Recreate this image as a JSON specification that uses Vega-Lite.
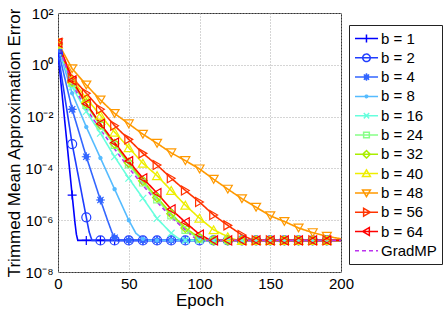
{
"$schema": "https://vega.github.io/schema/vega-lite/v6.json",
"width": 283, "height": 259,
"autosize": "none",
"padding": {"left": 58, "top": 13, "right": 105, "bottom": 40},
"background": "white",
"config": {
  "view": {"stroke": "#333", "strokeWidth": 1},
  "font": "Liberation Sans",
  "axis": {"labelFont": "Liberation Sans", "titleFont": "Liberation Sans", "labelColor": "black", "titleColor": "black", "titleFontWeight": "normal", "domain": false, "ticks": false, "gridColor": "#aaaaaa", "gridDash": [1, 2], "labelFontSize": 15, "titleFontSize": 17}
},
"datasets": {"d": [
{"s":"b = 1","e":0,"v":2.82},{"s":"b = 1","e":5,"v":5.01e-3},{"s":"b = 1","e":10,"v":9.33e-6},{"s":"b = 1","e":12,"v":7.94e-7},{"s":"b = 1","e":13,"v":2.82e-7},{"s":"b = 1","e":14,"v":1.66e-7},
{"s":"b = 1","e":20,"v":1.66e-7},{"s":"b = 1","e":30,"v":1.66e-7},{"s":"b = 1","e":40,"v":1.66e-7},{"s":"b = 1","e":50,"v":1.66e-7},{"s":"b = 1","e":60,"v":1.66e-7},{"s":"b = 1","e":70,"v":1.66e-7},{"s":"b = 1","e":80,"v":1.66e-7},{"s":"b = 1","e":90,"v":1.66e-7},{"s":"b = 1","e":100,"v":1.66e-7},{"s":"b = 1","e":110,"v":1.66e-7},{"s":"b = 1","e":120,"v":1.66e-7},{"s":"b = 1","e":130,"v":1.66e-7},{"s":"b = 1","e":140,"v":1.66e-7},{"s":"b = 1","e":150,"v":1.66e-7},{"s":"b = 1","e":160,"v":1.66e-7},{"s":"b = 1","e":170,"v":1.66e-7},{"s":"b = 1","e":180,"v":1.66e-7},{"s":"b = 1","e":190,"v":1.66e-7},{"s":"b = 1","e":200,"v":1.66e-7},
{"s":"b = 2","e":0,"v":2.82},{"s":"b = 2","e":10,"v":8.71e-4},{"s":"b = 2","e":20,"v":1.29e-6},{"s":"b = 2","e":22,"v":3.55e-7},{"s":"b = 2","e":24,"v":1.66e-7},
{"s":"b = 2","e":30,"v":1.66e-7},{"s":"b = 2","e":40,"v":1.66e-7},{"s":"b = 2","e":50,"v":1.66e-7},{"s":"b = 2","e":60,"v":1.66e-7},{"s":"b = 2","e":70,"v":1.66e-7},{"s":"b = 2","e":80,"v":1.66e-7},{"s":"b = 2","e":90,"v":1.66e-7},{"s":"b = 2","e":100,"v":1.66e-7},{"s":"b = 2","e":110,"v":1.66e-7},{"s":"b = 2","e":120,"v":1.66e-7},{"s":"b = 2","e":130,"v":1.66e-7},{"s":"b = 2","e":140,"v":1.66e-7},{"s":"b = 2","e":150,"v":1.66e-7},{"s":"b = 2","e":160,"v":1.66e-7},{"s":"b = 2","e":170,"v":1.66e-7},{"s":"b = 2","e":180,"v":1.66e-7},{"s":"b = 2","e":190,"v":1.66e-7},{"s":"b = 2","e":200,"v":1.66e-7},
{"s":"b = 4","e":0,"v":3.98},{"s":"b = 4","e":10,"v":1.91e-2},{"s":"b = 4","e":20,"v":2.82e-4},{"s":"b = 4","e":30,"v":6.03e-6},{"s":"b = 4","e":35,"v":1.0e-6},{"s":"b = 4","e":38,"v":3.55e-7},{"s":"b = 4","e":40,"v":2.09e-7},{"s":"b = 4","e":42,"v":1.66e-7},
{"s":"b = 4","e":50,"v":1.66e-7},{"s":"b = 4","e":60,"v":1.66e-7},{"s":"b = 4","e":70,"v":1.66e-7},{"s":"b = 4","e":80,"v":1.66e-7},{"s":"b = 4","e":90,"v":1.66e-7},{"s":"b = 4","e":100,"v":1.66e-7},{"s":"b = 4","e":110,"v":1.66e-7},{"s":"b = 4","e":120,"v":1.66e-7},{"s":"b = 4","e":130,"v":1.66e-7},{"s":"b = 4","e":140,"v":1.66e-7},{"s":"b = 4","e":150,"v":1.66e-7},{"s":"b = 4","e":160,"v":1.66e-7},{"s":"b = 4","e":170,"v":1.66e-7},{"s":"b = 4","e":180,"v":1.66e-7},{"s":"b = 4","e":190,"v":1.66e-7},{"s":"b = 4","e":200,"v":1.66e-7},
{"s":"b = 8","e":0,"v":5.01},{"s":"b = 8","e":10,"v":7.94e-2},{"s":"b = 8","e":20,"v":3.98e-3},{"s":"b = 8","e":30,"v":2.51e-4},{"s":"b = 8","e":40,"v":1.58e-5},{"s":"b = 8","e":50,"v":1.0e-6},{"s":"b = 8","e":55,"v":3.16e-7},{"s":"b = 8","e":60,"v":1.91e-7},{"s":"b = 8","e":63,"v":1.66e-7},
{"s":"b = 8","e":70,"v":1.66e-7},{"s":"b = 8","e":80,"v":1.66e-7},{"s":"b = 8","e":90,"v":1.66e-7},{"s":"b = 8","e":100,"v":1.66e-7},{"s":"b = 8","e":110,"v":1.66e-7},{"s":"b = 8","e":120,"v":1.66e-7},{"s":"b = 8","e":130,"v":1.66e-7},{"s":"b = 8","e":140,"v":1.66e-7},{"s":"b = 8","e":150,"v":1.66e-7},{"s":"b = 8","e":160,"v":1.66e-7},{"s":"b = 8","e":170,"v":1.66e-7},{"s":"b = 8","e":180,"v":1.66e-7},{"s":"b = 8","e":190,"v":1.66e-7},{"s":"b = 8","e":200,"v":1.66e-7},
{"s":"b = 16","e":0,"v":5.62},{"s":"b = 16","e":10,"v":0.141},{"s":"b = 16","e":20,"v":1.58e-2},{"s":"b = 16","e":30,"v":2.29e-3},{"s":"b = 16","e":40,"v":2.82e-4},{"s":"b = 16","e":50,"v":4.17e-5},{"s":"b = 16","e":60,"v":7.08e-6},{"s":"b = 16","e":70,"v":1.17e-6},{"s":"b = 16","e":80,"v":3.16e-7},{"s":"b = 16","e":85,"v":2.0e-7},
{"s":"b = 16","e":90,"v":1.66e-7},{"s":"b = 16","e":100,"v":1.66e-7},{"s":"b = 16","e":110,"v":1.66e-7},{"s":"b = 16","e":120,"v":1.66e-7},{"s":"b = 16","e":130,"v":1.66e-7},{"s":"b = 16","e":140,"v":1.66e-7},{"s":"b = 16","e":150,"v":1.66e-7},{"s":"b = 16","e":160,"v":1.66e-7},{"s":"b = 16","e":170,"v":1.66e-7},{"s":"b = 16","e":180,"v":1.66e-7},{"s":"b = 16","e":190,"v":1.66e-7},{"s":"b = 16","e":200,"v":1.66e-7},
{"s":"b = 24","e":0,"v":6.31},{"s":"b = 24","e":10,"v":0.2},{"s":"b = 24","e":20,"v":2.82e-2},{"s":"b = 24","e":30,"v":4.47e-3},{"s":"b = 24","e":40,"v":7.94e-4},{"s":"b = 24","e":50,"v":1.41e-4},{"s":"b = 24","e":60,"v":2.82e-5},{"s":"b = 24","e":70,"v":6.31e-6},{"s":"b = 24","e":80,"v":1.51e-6},{"s":"b = 24","e":90,"v":4.17e-7},{"s":"b = 24","e":100,"v":1.91e-7},{"s":"b = 24","e":104,"v":1.66e-7},
{"s":"b = 24","e":110,"v":1.66e-7},{"s":"b = 24","e":120,"v":1.66e-7},{"s":"b = 24","e":130,"v":1.66e-7},{"s":"b = 24","e":140,"v":1.66e-7},{"s":"b = 24","e":150,"v":1.66e-7},{"s":"b = 24","e":160,"v":1.66e-7},{"s":"b = 24","e":170,"v":1.66e-7},{"s":"b = 24","e":180,"v":1.66e-7},{"s":"b = 24","e":190,"v":1.66e-7},{"s":"b = 24","e":200,"v":1.66e-7},
{"s":"b = 32","e":0,"v":6.31},{"s":"b = 32","e":10,"v":0.224},{"s":"b = 32","e":20,"v":3.16e-2},{"s":"b = 32","e":30,"v":5.01e-3},{"s":"b = 32","e":40,"v":8.91e-4},{"s":"b = 32","e":50,"v":1.66e-4},{"s":"b = 32","e":60,"v":3.31e-5},{"s":"b = 32","e":70,"v":7.59e-6},{"s":"b = 32","e":80,"v":1.78e-6},{"s":"b = 32","e":90,"v":5.01e-7},{"s":"b = 32","e":100,"v":2.09e-7},{"s":"b = 32","e":106,"v":1.66e-7},
{"s":"b = 32","e":110,"v":1.66e-7},{"s":"b = 32","e":120,"v":1.66e-7},{"s":"b = 32","e":130,"v":1.66e-7},{"s":"b = 32","e":140,"v":1.66e-7},{"s":"b = 32","e":150,"v":1.66e-7},{"s":"b = 32","e":160,"v":1.66e-7},{"s":"b = 32","e":170,"v":1.66e-7},{"s":"b = 32","e":180,"v":1.66e-7},{"s":"b = 32","e":190,"v":1.66e-7},{"s":"b = 32","e":200,"v":1.66e-7},
{"s":"b = 40","e":0,"v":6.31},{"s":"b = 40","e":10,"v":0.282},{"s":"b = 40","e":20,"v":5.01e-2},{"s":"b = 40","e":30,"v":1.12e-2},{"s":"b = 40","e":40,"v":2.51e-3},{"s":"b = 40","e":50,"v":6.31e-4},{"s":"b = 40","e":60,"v":1.58e-4},{"s":"b = 40","e":70,"v":5.25e-5},{"s":"b = 40","e":80,"v":1.41e-5},{"s":"b = 40","e":90,"v":3.8e-6},{"s":"b = 40","e":100,"v":1.2e-6},{"s":"b = 40","e":110,"v":4.27e-7},{"s":"b = 40","e":120,"v":2.29e-7},{"s":"b = 40","e":127,"v":1.66e-7},
{"s":"b = 40","e":130,"v":1.66e-7},{"s":"b = 40","e":140,"v":1.66e-7},{"s":"b = 40","e":150,"v":1.66e-7},{"s":"b = 40","e":160,"v":1.66e-7},{"s":"b = 40","e":170,"v":1.66e-7},{"s":"b = 40","e":180,"v":1.66e-7},{"s":"b = 40","e":190,"v":1.66e-7},{"s":"b = 40","e":200,"v":1.66e-7},
{"s":"b = 48","e":0,"v":7.08},{"s":"b = 48","e":10,"v":0.708},{"s":"b = 48","e":20,"v":0.166},{"s":"b = 48","e":30,"v":4.37e-2},{"s":"b = 48","e":40,"v":1.32e-2},{"s":"b = 48","e":50,"v":5.25e-3},{"s":"b = 48","e":60,"v":2.09e-3},{"s":"b = 48","e":70,"v":9.33e-4},{"s":"b = 48","e":80,"v":3.98e-4},{"s":"b = 48","e":90,"v":2.0e-4},{"s":"b = 48","e":100,"v":9.55e-5},{"s":"b = 48","e":110,"v":3.8e-5},{"s":"b = 48","e":120,"v":1.58e-5},{"s":"b = 48","e":130,"v":6.76e-6},{"s":"b = 48","e":140,"v":3.16e-6},{"s":"b = 48","e":150,"v":1.48e-6},{"s":"b = 48","e":160,"v":8.91e-7},{"s":"b = 48","e":170,"v":5.01e-7},{"s":"b = 48","e":180,"v":3.31e-7},{"s":"b = 48","e":190,"v":2.4e-7},{"s":"b = 48","e":200,"v":1.91e-7},
{"s":"b = 56","e":0,"v":7.08},{"s":"b = 56","e":10,"v":0.316},{"s":"b = 56","e":20,"v":7.94e-2},{"s":"b = 56","e":30,"v":1.91e-2},{"s":"b = 56","e":40,"v":4.47e-3},{"s":"b = 56","e":50,"v":1.32e-3},{"s":"b = 56","e":60,"v":3.8e-4},{"s":"b = 56","e":70,"v":1.35e-4},{"s":"b = 56","e":80,"v":4.17e-5},{"s":"b = 56","e":90,"v":1.41e-5},{"s":"b = 56","e":100,"v":5.01e-6},{"s":"b = 56","e":110,"v":1.58e-6},{"s":"b = 56","e":120,"v":6.31e-7},{"s":"b = 56","e":130,"v":2.69e-7},{"s":"b = 56","e":138,"v":1.66e-7},
{"s":"b = 56","e":140,"v":1.66e-7},{"s":"b = 56","e":150,"v":1.66e-7},{"s":"b = 56","e":160,"v":1.66e-7},{"s":"b = 56","e":170,"v":1.66e-7},{"s":"b = 56","e":180,"v":1.66e-7},{"s":"b = 56","e":190,"v":1.66e-7},{"s":"b = 56","e":200,"v":1.66e-7},
{"s":"b = 64","e":0,"v":7.08},{"s":"b = 64","e":10,"v":0.251},{"s":"b = 64","e":20,"v":3.16e-2},{"s":"b = 64","e":30,"v":5.25e-3},{"s":"b = 64","e":40,"v":1.0e-3},{"s":"b = 64","e":50,"v":1.91e-4},{"s":"b = 64","e":60,"v":4.17e-5},{"s":"b = 64","e":70,"v":1.12e-5},{"s":"b = 64","e":80,"v":2.63e-6},{"s":"b = 64","e":90,"v":8.32e-7},{"s":"b = 64","e":100,"v":2.82e-7},{"s":"b = 64","e":108,"v":1.66e-7},
{"s":"b = 64","e":110,"v":1.66e-7},{"s":"b = 64","e":120,"v":1.66e-7},{"s":"b = 64","e":130,"v":1.66e-7},{"s":"b = 64","e":140,"v":1.66e-7},{"s":"b = 64","e":150,"v":1.66e-7},{"s":"b = 64","e":160,"v":1.66e-7},{"s":"b = 64","e":170,"v":1.66e-7},{"s":"b = 64","e":180,"v":1.66e-7},{"s":"b = 64","e":190,"v":1.66e-7},{"s":"b = 64","e":200,"v":1.66e-7},
{"s":"GradMP","e":0,"v":6.31},{"s":"GradMP","e":10,"v":0.178},{"s":"GradMP","e":20,"v":2.0e-2},{"s":"GradMP","e":30,"v":3.16e-3},{"s":"GradMP","e":40,"v":5.62e-4},{"s":"GradMP","e":50,"v":1.05e-4},{"s":"GradMP","e":60,"v":2.24e-5},{"s":"GradMP","e":70,"v":5.01e-6},{"s":"GradMP","e":80,"v":1.32e-6},{"s":"GradMP","e":90,"v":4.17e-7},{"s":"GradMP","e":97,"v":2.0e-7},{"s":"GradMP","e":100,"v":1.66e-7},{"s":"GradMP","e":200,"v":1.66e-7}
]},
"data": {"name": "d"},
"encoding": {
  "x": {"field": "e", "type": "quantitative", "scale": {"domain": [0, 200], "nice": false}, "axis": {"values": [0, 50, 100, 150, 200], "title": "Epoch", "labelPadding": 4, "titlePadding": 1, "labelFlush": false}},
  "y": {"field": "v", "type": "quantitative", "scale": {"type": "log", "domain": [1e-8, 100], "nice": false}, "axis": {"values": [1e-8, 1e-6, 1e-4, 1e-2, 1, 100], "labelExpr": "['10⁻⁸','10⁻⁷','10⁻⁶','10⁻⁵','10⁻⁴','10⁻³','10⁻²','10⁻¹','10⁰','10¹','10²'][round(log(datum.value)/LN10)+8]", "title": "Trimmed Mean Approximation Error", "labelPadding": 5, "titleX": -44, "titleY": 129.5, "titleBaseline": "middle", "titleAlign": "center", "titleAngle": -90, "labelFlush": false}},
  "color": {"field": "s", "type": "nominal", "scale": {"domain": ["b = 1","b = 2","b = 4","b = 8","b = 16","b = 24","b = 32","b = 40","b = 48","b = 56","b = 64","GradMP"], "range": ["#0000ff","#1f3dff","#3366ff","#55bbff","#66ffdd","#88ff88","#aaee00","#eeee00","#ff9900","#ff3300","#ff0000","#bb33ee"]},
    "legend": {"orient": "none", "legendX": 291, "legendY": 12, "title": null, "padding": 5, "rowPadding": 2.3, "labelFontSize": 15, "labelFont": "Liberation Sans", "labelColor": "black", "strokeColor": "#222", "fillColor": "white", "symbolSize": 225, "labelOffset": 10, "symbolStrokeWidth": 1.5, "cornerRadius": 0,
      "symbolType": {"expr": "'M-1,0H2.07' + ['M0.53,-0.53V0.53','M0.03,0A0.5,0.5 0 1,1 1.03,0A0.5,0.5 0 1,1 0.03,0Z','M0.53,-0.5V0.5M0.18,-0.35L0.88,0.35M0.18,0.35L0.88,-0.35M0.26,0A0.27,0.27 0 1,1 0.8,0A0.27,0.27 0 1,1 0.26,0Z','M0.36,0A0.17,0.17 0 1,1 0.7,0A0.17,0.17 0 1,1 0.36,0Z','M0.17,-0.36L0.89,0.36M0.17,0.36L0.89,-0.36','M0.15,-0.38H0.91V0.38H0.15Z','M0.53,-0.5L1.03,0L0.53,0.5L0.03,0Z','M0.53,-0.5L1.05,0.38L0.01,0.38Z','M0.53,0.5L1.05,-0.38L0.01,-0.38Z','M1.03,0L0.15,-0.52L0.15,0.52Z','M0.03,0L0.91,-0.52L0.91,0.52Z',''][indexof(['b = 1','b = 2','b = 4','b = 8','b = 16','b = 24','b = 32','b = 40','b = 48','b = 56','b = 64','GradMP'], datum.value)]"},
      "symbolDash": {"expr": "datum.value == 'GradMP' ? [3,2] : [1,0]"},
      "symbolFillColor": {"expr": "datum.value == 'b = 4' ? '#3366ff' : datum.value == 'b = 8' ? '#55bbff' : 'transparent'"}
    }}
},
"layer": [
  {"mark": {"type": "line", "strokeWidth": 1.6, "clip": true},
   "encoding": {
     "strokeDash": {"field": "s", "type": "nominal", "scale": {"domain": ["b = 1","b = 2","b = 4","b = 8","b = 16","b = 24","b = 32","b = 40","b = 48","b = 56","b = 64","GradMP"], "range": [[1,0],[1,0],[1,0],[1,0],[1,0],[1,0],[1,0],[1,0],[1,0],[1,0],[1,0],[4,3]]}, "legend": null}
   }},
  {"transform": [{"filter": "datum.e % 10 == 0 && datum.e < 200 && datum.s != 'GradMP'"}],
   "mark": {"type": "point", "filled": false, "size": 81, "strokeWidth": 1.2, "opacity": 1, "clip": true},
   "encoding": {
     "shape": {"field": "s", "type": "nominal", "scale": {"domain": ["b = 1","b = 2","b = 4","b = 8","b = 16","b = 24","b = 32","b = 40","b = 48","b = 56","b = 64"], "range": ["M-1,0H1M0,-1V1","circle","M-1,0H1M0,-1V1M-0.7,-0.7L0.7,0.7M-0.7,0.7L0.7,-0.7M-0.5,0A0.5,0.5 0 1,1 0.5,0A0.5,0.5 0 1,1 -0.5,0Z","M-0.35,0A0.35,0.35 0 1,1 0.35,0A0.35,0.35 0 1,1 -0.35,0Z","M-0.75,-0.75L0.75,0.75M-0.75,0.75L0.75,-0.75","M-0.75,-0.75H0.75V0.75H-0.75Z","diamond","triangle-up","triangle-down","triangle-right","triangle-left"]}, "legend": null},
     "fill": {"field": "s", "type": "nominal", "scale": {"domain": ["b = 1","b = 2","b = 4","b = 8","b = 16","b = 24","b = 32","b = 40","b = 48","b = 56","b = 64"], "range": ["transparent","transparent","#3366ff","#55bbff","transparent","transparent","transparent","transparent","transparent","transparent","transparent"]}, "legend": null}
   }}
]
}
